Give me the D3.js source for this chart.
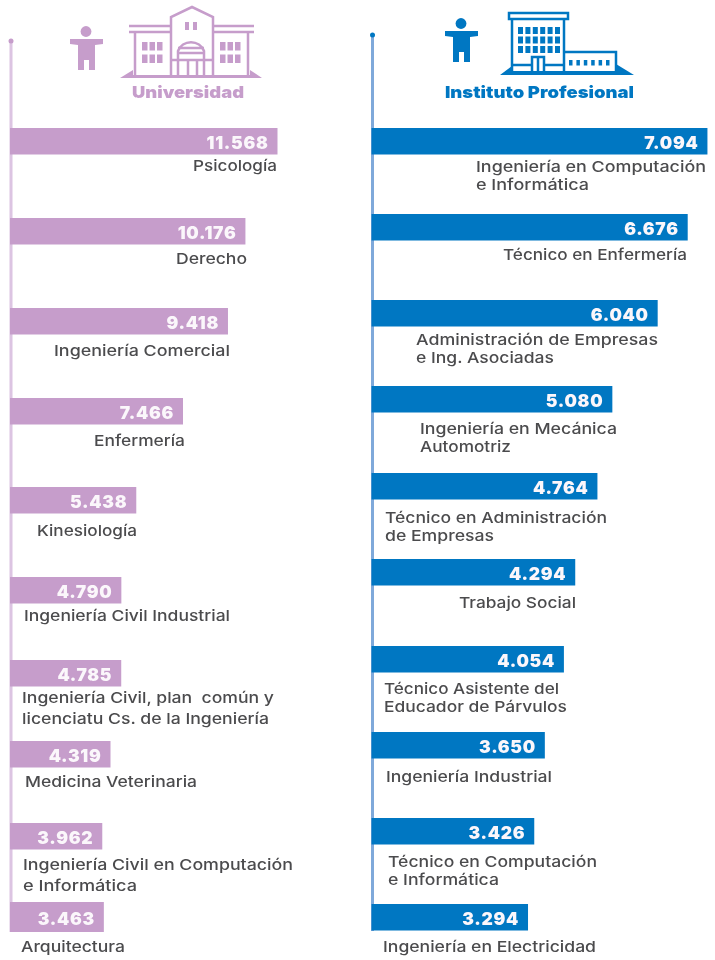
<!DOCTYPE html>
<html>
<head>
<meta charset="utf-8">
<script src="https://cdn.jsdelivr.net/npm/d3@7/dist/d3.min.js"></script>
<style>
  html, body { margin: 0; padding: 0; background: #fff; }
  svg { display: block; }
  text { font-family: Inter, "Noto Sans", sans-serif; white-space: pre; }
</style>
</head>
<body>
<div id="chart"></div>
<script>
// data
const uniTitle = "Universidad"
const ipTitle = "Instituto Profesional"

const uniLabels = [
  ["Psicología"], ["Derecho"], ["Ingeniería Comercial"], ["Enfermería"], ["Kinesiología"],
  ["Ingeniería Civil Industrial"],
  ["Ingeniería Civil, plan  común y", "licenciatu Cs. de la Ingeniería"],
  ["Medicina Veterinaria"],
  ["Ingeniería Civil en Computación", "e Informática"],
  ["Arquitectura"]
]
const uniValues = [11568, 10176, 9418, 7466, 5438, 4790, 4785, 4319, 3962, 3463]
// last bar is drawn longer than its number says, as in the original
const uniBarLengths = [11568, 10176, 9418, 7466, 5438, 4790, 4785, 4319, 3962, 4030]

const ipLabels = [
  ["Ingeniería en Computación", "e Informática"],
  ["Técnico en Enfermería"],
  ["Administración de Empresas", "e Ing. Asociadas"],
  ["Ingeniería en Mecánica", "Automotriz"],
  ["Técnico en Administración", "de Empresas"],
  ["Trabajo Social"],
  ["Técnico Asistente del", "Educador de Párvulos"],
  ["Ingeniería Industrial"],
  ["Técnico en Computación", "e Informática"],
  ["Ingeniería en Electricidad"]
]
const ipValues = [7094, 6676, 6040, 5080, 4764, 4294, 4054, 3650, 3426, 3294]

// layout, the rows in the original are not evenly spaced
const uniRowTops = [128, 218, 308, 398, 487, 577, 660, 741, 823, 902]
const ipRowTops = [128, 214, 300, 386, 473, 559, 646, 732, 818, 904]
const uniLabelX = [193, 176, 54, 94, 37, 24, 22, 25, 23, 21]
const uniLabelBase = [43, 46, 48, 48, 49, 44, 43, 46, 47, 50]
const uniLabelWidths = [[84], [71], [176], [91], [100], [206], [252, 247], [172], [270, 114], [104]]
const ipLabelX = [476, 503, 416, 420, 385, 459, 384, 386, 388, 383]
const ipLabelBase = [44, 46, 45, 48, 50, 49, 48, 50, 49, 48]
const ipLabelWidths = [[230, 113], [184], [242, 138], [197, 91], [222, 109], [117], [175, 183], [166], [209, 111], [213]]

const width = 715, height = 960
const uniColor = "#c69dcb", uniAxis = "#dcc4e2"
const ipColor = "#0677c2", ipAxis = "#7fa9da"
const textColor = "#4c4c4e"

const fmt = d3.formatLocale({decimal: ",", thousands: ".", grouping: [3], currency: ["", ""]}).format(",d")

const svg = d3.select("#chart").append("svg")
  .attr("width", width)
  .attr("height", height)

// the original is a soft, resampled image
svg.append("filter").attr("id", "soft")
  .append("feGaussianBlur").attr("stdDeviation", 0.55)

const root = svg.append("g").attr("filter", "url(#soft)")

function drawColumn(opts) {
  const g = root.append("g")
  const x = d3.scaleLinear().domain(opts.domain).range(opts.range)
  const y = d3.scaleOrdinal().domain(opts.values.map((d, i) => i)).range(opts.tops)
  const barH = 26.5

  g.append("line")
    .attr("x1", x(0)).attr("x2", x(0))
    .attr("y1", opts.axisTop).attr("y2", opts.axisBottom)
    .attr("stroke", opts.axisColor)
    .attr("stroke-width", 3)
  g.append("circle")
    .attr("cx", x(0)).attr("cy", opts.axisTop)
    .attr("r", 2.5)
    .attr("fill", opts.dotColor)

  const rows = g.selectAll("g.row")
    .data(opts.values)
    .join("g")
    .attr("class", "row")

  rows.append("rect")
    .attr("x", x(0) - 1)
    .attr("y", (d, i) => y(i))
    .attr("width", (d, i) => x(opts.lengths[i]) - x(0) + 1)
    .attr("height", (d, i) => i == opts.values.length - 1 && opts.lastH ? opts.lastH : barH)
    .attr("fill", opts.color)

  rows.append("text")
    .text(d => fmt(d))
    .attr("x", (d, i) => x(opts.lengths[i]) - 9)
    .attr("y", (d, i) => y(i) + (i == opts.values.length - 1 && opts.lastH ? 23 : 21))
    .attr("text-anchor", "end")
    .attr("fill", "#fbf7fb")
    .style("font-size", "17.5px")
    .style("font-weight", 900)
    .style("letter-spacing", "0.7px")

  opts.labels.forEach((lines, i) => {
    lines.forEach((line, j) => {
      g.append("text")
        .text(line)
        .attr("x", opts.labelX[i])
        .attr("y", y(i) + opts.labelBase[i] + j * opts.lineGap)
        .attr("textLength", opts.labelWidths[i][j])
        .attr("lengthAdjust", "spacingAndGlyphs")
        .attr("fill", textColor)
        .style("font-size", "15px")
        .style("font-weight", 500)
    })
  })

  g.append("text")
    .text(opts.title)
    .attr("x", opts.titleX)
    .attr("y", 98)
    .attr("textLength", opts.titleW)
    .attr("lengthAdjust", "spacingAndGlyphs")
    .attr("fill", opts.color)
    .style("font-size", "16.5px")
    .style("font-weight", 900)
}

drawColumn({
  title: uniTitle, titleX: 132, titleW: 112,
  labels: uniLabels, values: uniValues, lengths: uniBarLengths,
  domain: [0, 11568], range: [11, 277.5],
  tops: uniRowTops, labelX: uniLabelX, labelBase: uniLabelBase, labelWidths: uniLabelWidths,
  lineGap: 21, color: uniColor, axisColor: uniAxis, dotColor: uniColor,
  axisTop: 41, axisBottom: 932, lastH: 30
})

drawColumn({
  title: ipTitle, titleX: 445, titleW: 189,
  labels: ipLabels, values: ipValues, lengths: ipValues,
  domain: [0, 7000], range: [372.5, 703],
  tops: ipRowTops, labelX: ipLabelX, labelBase: ipLabelBase, labelWidths: ipLabelWidths,
  lineGap: 18, color: ipColor, axisColor: ipAxis, dotColor: ipColor,
  axisTop: 35, axisBottom: 931
})

// icons
function person(dx, dy, color) {
  const p = root.append("g").attr("transform", `translate(${dx},${dy})`).attr("fill", color)
  p.append("circle").attr("cx", 86).attr("cy", 31.5).attr("r", 5.4)
  p.append("path").attr("d", "M70 39H103V44L95 45V70H89V60H84V70H78V45L70 44Z")
}

function box(g, x, y, w, h, color) {
  g.append("rect").attr("x", x).attr("y", y).attr("width", w).attr("height", h).attr("fill", color)
}

function university(color) {
  const g = root.append("g")
  const line = g.append("g").attr("fill", "none").attr("stroke", color).attr("stroke-width", 2.5)
  line.append("path").attr("d", "M171 76V17L192 7L213 17V76")
  line.append("path").attr("d", "M171 26H129M171 32H129M213 26H254M213 32H254")
  line.append("path").attr("d", "M135 32V76M248 32V76")
  line.append("path").attr("d", "M178 76V51A14 14 0 0 1 204 51V76")
  line.append("path").attr("d", "M178 48H204M178 53H204M171 60H213M188 60V76M197 60V76")
  g.append("path").attr("fill", color).attr("d", "M120 78L133 70V75H250V70L262 78Z")
  d3.range(3).forEach(c => d3.range(2).forEach(r => {
    box(g, 142 + c * 7.5, 42 + r * 12.5, 5.5, 8.5, color)
    box(g, 220 + c * 7.5, 42 + r * 12.5, 5.5, 8.5, color)
  }))
  box(g, 185, 22, 4, 8, color)
  box(g, 193, 22, 4, 8, color)
}

function institute(color) {
  const g = root.append("g")
  const line = g.append("g").attr("fill", "none").attr("stroke", color).attr("stroke-width", 2.5)
  line.append("rect").attr("x", 509).attr("y", 13).attr("width", 59).attr("height", 6)
  line.append("path").attr("d", "M512 19V73M564 19V73")
  line.append("path").attr("d", "M512 65H532M544 65H564M532 73V57H544V73M538 57V73")
  line.append("path").attr("d", "M564 52H616V73")
  g.append("path").attr("fill", color).attr("d", "M500 75L512 66V71H616V64L634 75Z")
  d3.range(6).forEach(c => d3.range(3).forEach(r => {
    box(g, 518 + c * 7.4, 27 + r * 9.5, 5, 7, color)
  }))
  d3.range(6).forEach(c => box(g, 569 + c * 7.4, 60, 3.5, 5.5, color))
}

person(0, 0, uniColor)
person(375, -8, ipColor)
university(uniColor)
institute(ipColor)
</script>
</body>
</html>
